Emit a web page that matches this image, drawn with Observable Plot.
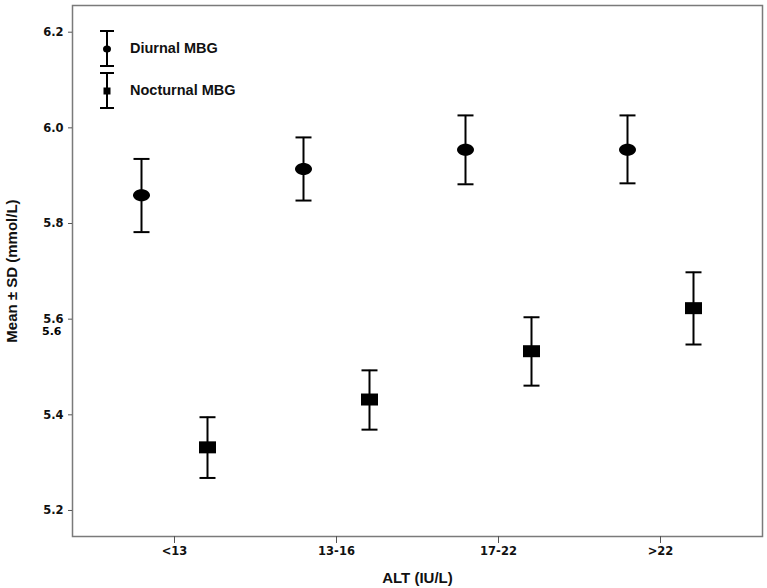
<!DOCTYPE html>
<html><head><meta charset="utf-8">
<script src="https://cdn.jsdelivr.net/npm/d3@7"></script>
<script src="https://cdn.jsdelivr.net/npm/@observablehq/plot@0.6"></script>
<style>
body{margin:0;background:#fff;font-family:"Liberation Sans",Arial,sans-serif;}
#wrap{position:relative;width:767px;height:588px;}
#legend{position:absolute;left:0;top:0;pointer-events:none;}
</style></head><body><div id="wrap"></div>
<script>
const categories = ["<13", "13-16", "17-22", ">22"];
const seriesNames = ["Diurnal MBG", "Nocturnal MBG"];
const diurnalMean = [5.859, 5.914, 5.954, 5.954];
const diurnalLow  = [5.782, 5.848, 5.882, 5.884];
const diurnalHigh = [5.935, 5.980, 6.026, 6.026];
const nocturnalMean = [5.332, 5.432, 5.533, 5.623];
const nocturnalLow  = [5.268, 5.369, 5.461, 5.547];
const nocturnalHigh = [5.395, 5.493, 5.604, 5.698];
const yTicks = [5.2, 5.4, 5.6, 5.8, 6.0, 6.2];
const xLabel = "ALT (IU/L)";
const yLabel = "Mean \u00b1 SD (mmol/L)";

const diurnal = categories.map((c, i) => ({cat: c, mean: diurnalMean[i], lo: diurnalLow[i], hi: diurnalHigh[i]}));
const nocturnal = categories.map((c, i) => ({cat: c, mean: nocturnalMean[i], lo: nocturnalLow[i], hi: nocturnalHigh[i]}));

const tickFont = '"DejaVu Sans", Verdana, sans-serif';
const titleFont = '"Liberation Sans", Arial, sans-serif';

// custom symbols
const ellipseSym = {draw(ctx) {
  const rx = 8.5, ry = 6, k = 0.5523;
  ctx.moveTo(rx, 0);
  ctx.bezierCurveTo(rx, k * ry, k * rx, ry, 0, ry);
  ctx.bezierCurveTo(-k * rx, ry, -rx, k * ry, -rx, 0);
  ctx.bezierCurveTo(-rx, -k * ry, -k * rx, -ry, 0, -ry);
  ctx.bezierCurveTo(k * rx, -ry, rx, -k * ry, rx, 0);
  ctx.closePath();
}};
const rectSym = {draw(ctx) { ctx.rect(-8.5, -6, 17, 12); }};
const capSym = {draw(ctx) { ctx.moveTo(-8, 0); ctx.lineTo(8, 0); }};

function series(data, dx, sym) {
  return [
    Plot.ruleX(data, {x: "cat", y1: "lo", y2: "hi", dx, stroke: "#000", strokeWidth: 2}),
    Plot.dot(data, {x: "cat", y: "hi", dx, symbol: capSym, stroke: "#000", strokeWidth: 2, fill: "none"}),
    Plot.dot(data, {x: "cat", y: "lo", dx, symbol: capSym, stroke: "#000", strokeWidth: 2, fill: "none"}),
    Plot.dot(data, {x: "cat", y: "mean", dx, symbol: sym, fill: "#000", stroke: "none"})
  ];
}

const chart = Plot.plot({
  width: 767,
  height: 588,
  marginLeft: 72,
  marginRight: 5,
  marginTop: 5,
  marginBottom: 52,
  style: {fontFamily: titleFont, color: "#111", background: "#fff"},
  x: {type: "point", domain: categories, padding: 0.618},
  y: {domain: [5.1456, 6.2558]},
  marks: [
    Plot.frame({stroke: "#7a7a7a", strokeWidth: 1.5}),
    Plot.axisY({ticks: yTicks, tickFormat: d3.format(".1f"), tickSize: 4, tickPadding: 5, fontSize: 11.5, fontWeight: "bold", fontFamily: tickFont, stroke: "#555", label: null}),
    Plot.text([5.6], {y: d => d, frameAnchor: "left", dx: -11, dy: 12.5, text: d => d3.format(".1f")(d), textAnchor: "end", fontSize: 11, fontWeight: "bold", fontFamily: tickFont, fill: "#000"}),
    Plot.axisX({tickSize: 7, tickPadding: 3, fontSize: 11.5, fontWeight: "bold", fontFamily: tickFont, stroke: "#555", label: null}),
    Plot.text([yLabel], {frameAnchor: "left", textAnchor: "middle", lineAnchor: "middle", rotate: -90, dx: -60, fontSize: 15, fontWeight: "bold", fill: "#111"}),
    Plot.text([xLabel], {frameAnchor: "bottom", textAnchor: "middle", lineAnchor: "middle", dy: 42, fontSize: 15, fontWeight: "bold", fill: "#111"}),
    ...series(diurnal, -33, ellipseSym),
    ...series(nocturnal, 33, rectSym)
  ]
});
const wrap = document.getElementById("wrap");
wrap.appendChild(chart);

// legend overlay
const leg = d3.select(wrap).append("svg").attr("id", "legend").attr("width", 300).attr("height", 120);
const items = [
  {name: seriesNames[0], top: 31, bot: 66, mid: 49, shape: "ellipse"},
  {name: seriesNames[1], top: 73, bot: 108, mid: 91, shape: "rect"}
];
for (const it of items) {
  const g = leg.append("g");
  g.append("line").attr("x1", 107).attr("x2", 107).attr("y1", it.top).attr("y2", it.bot).attr("stroke", "#000").attr("stroke-width", 2);
  g.append("line").attr("x1", 100).attr("x2", 114).attr("y1", it.top).attr("y2", it.top).attr("stroke", "#000").attr("stroke-width", 2);
  g.append("line").attr("x1", 100).attr("x2", 114).attr("y1", it.bot).attr("y2", it.bot).attr("stroke", "#000").attr("stroke-width", 2);
  if (it.shape === "ellipse") g.append("ellipse").attr("cx", 107).attr("cy", it.mid).attr("rx", 4).attr("ry", 3.5).attr("fill", "#000");
  else g.append("rect").attr("x", 103.5).attr("y", it.mid - 3.5).attr("width", 7).attr("height", 7).attr("fill", "#000");
  g.append("text").attr("x", 130).attr("y", it.mid + 4).attr("font-size", 14.5).attr("font-weight", "bold")
    .attr("font-family", titleFont).attr("fill", "#111").text(it.name);
}
</script></body></html>
